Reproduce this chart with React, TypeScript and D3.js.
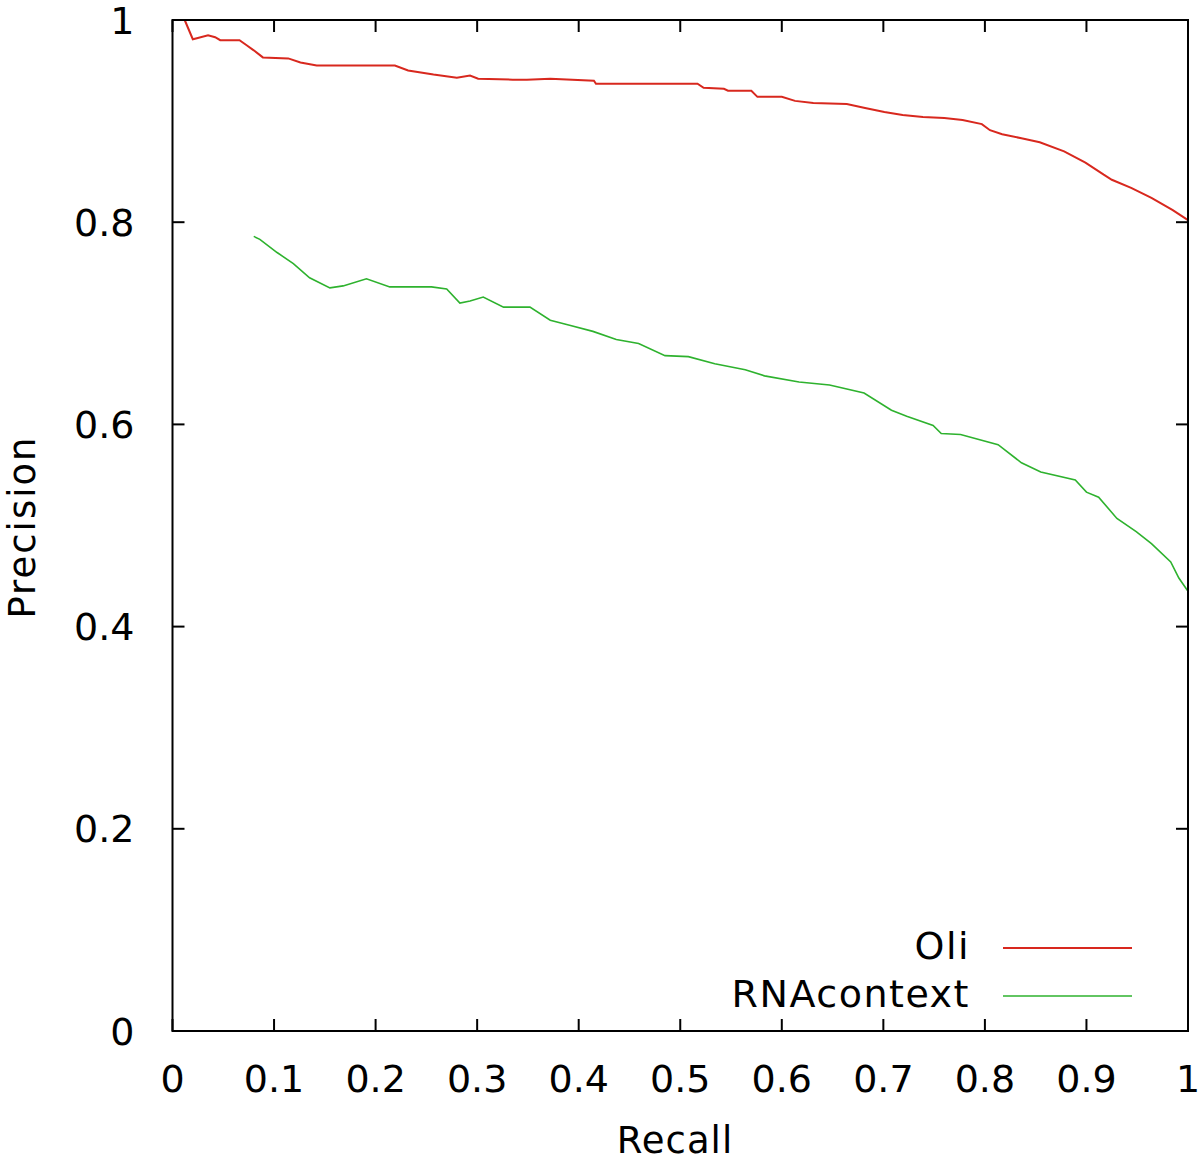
import React, {useEffect, useRef} from 'react';
import * as d3 from 'd3';

const width = 1200;
const height = 1164;
const FONT = '"DejaVu Sans", Verdana, sans-serif';
const RED = '#d8281e';
const GREEN = '#2eb22e';

// Oli curve (recall, precision)
const oliRecall = [0.012, 0.020, 0.024, 0.035, 0.042, 0.047, 0.066, 0.073, 0.080, 0.089, 0.114, 0.126, 0.142, 0.219, 0.232, 0.257, 0.280, 0.293, 0.301, 0.335, 0.349, 0.372, 0.415, 0.417, 0.517, 0.523, 0.543, 0.547, 0.570, 0.576, 0.600, 0.613, 0.631, 0.664, 0.682, 0.701, 0.719, 0.739, 0.760, 0.778, 0.797, 0.805, 0.817, 0.836, 0.854, 0.878, 0.899, 0.917, 0.925, 0.944, 0.964, 0.985, 1.0];
const oliPrecision = [1.0, 0.981, 0.982, 0.985, 0.983, 0.980, 0.980, 0.975, 0.970, 0.963, 0.962, 0.958, 0.955, 0.955, 0.950, 0.946, 0.943, 0.945, 0.942, 0.941, 0.941, 0.942, 0.940, 0.937, 0.937, 0.933, 0.932, 0.930, 0.930, 0.924, 0.924, 0.920, 0.918, 0.917, 0.913, 0.909, 0.906, 0.904, 0.903, 0.901, 0.897, 0.891, 0.887, 0.883, 0.879, 0.870, 0.859, 0.847, 0.842, 0.834, 0.824, 0.812, 0.802];

// RNAcontext curve
const rnaRecall = [0.080, 0.086, 0.103, 0.119, 0.135, 0.155, 0.168, 0.191, 0.214, 0.255, 0.270, 0.283, 0.293, 0.306, 0.326, 0.352, 0.372, 0.391, 0.414, 0.437, 0.459, 0.485, 0.508, 0.534, 0.564, 0.583, 0.617, 0.647, 0.681, 0.708, 0.723, 0.749, 0.757, 0.776, 0.813, 0.836, 0.855, 0.889, 0.900, 0.912, 0.930, 0.949, 0.964, 0.983, 0.991, 1.0];
const rnaPrecision = [0.786, 0.783, 0.770, 0.759, 0.745, 0.735, 0.737, 0.744, 0.736, 0.736, 0.734, 0.720, 0.722, 0.726, 0.716, 0.716, 0.703, 0.698, 0.692, 0.684, 0.680, 0.668, 0.667, 0.660, 0.654, 0.648, 0.642, 0.639, 0.631, 0.614, 0.608, 0.599, 0.591, 0.590, 0.580, 0.562, 0.553, 0.545, 0.533, 0.528, 0.507, 0.494, 0.482, 0.464, 0.448, 0.435];

const xTicks = [0, 0.1, 0.2, 0.3, 0.4, 0.5, 0.6, 0.7, 0.8, 0.9, 1];
const yTicks = [0, 0.2, 0.4, 0.6, 0.8, 1];
const seriesNames = ['Oli', 'RNAcontext'];

const App = () => {
    const canvas = useRef<HTMLDivElement>(null);

    useEffect(() => {
        document.body.style.margin = '0';
        d3.select(canvas.current).selectAll('*').remove();

        const svg = d3.select(canvas.current)
            .append('svg')
            .attr('width', width)
            .attr('height', height)
            .style('display', 'block')
            .style('background', '#fff');

        const left = 172.5, right = 1188, top = 20, bottom = 1031;
        const x = d3.scaleLinear().domain([0, 1]).range([left, right]);
        const y = d3.scaleLinear().domain([0, 1]).range([bottom, top]);
        const tickLen = 12;

        // ticks on all four sides, pointing in
        xTicks.forEach(t => {
            svg.append('line').attr('x1', x(t)).attr('x2', x(t)).attr('y1', bottom).attr('y2', bottom - tickLen)
                .attr('stroke', '#000').attr('stroke-width', 2);
            svg.append('line').attr('x1', x(t)).attr('x2', x(t)).attr('y1', top).attr('y2', top + tickLen)
                .attr('stroke', '#000').attr('stroke-width', 2);
            svg.append('text').attr('x', x(t)).attr('y', 1092)
                .attr('text-anchor', 'middle').attr('font-family', FONT).attr('font-size', 38)
                .text(d3.format('~g')(t));
        });
        yTicks.forEach(t => {
            svg.append('line').attr('x1', left).attr('x2', left + tickLen).attr('y1', y(t)).attr('y2', y(t))
                .attr('stroke', '#000').attr('stroke-width', 2);
            svg.append('line').attr('x1', right).attr('x2', right - tickLen).attr('y1', y(t)).attr('y2', y(t))
                .attr('stroke', '#000').attr('stroke-width', 2);
            svg.append('text').attr('x', left - 38).attr('y', y(t)).attr('dy', '0.36em')
                .attr('text-anchor', 'end').attr('font-family', FONT).attr('font-size', 38)
                .text(d3.format('~g')(t));
        });

        const line = d3.line<[number, number]>()
            .x(d => x(d[0]))
            .y(d => y(d[1]));

        const oli = oliRecall.map((r, i) => [r, oliPrecision[i]] as [number, number]);
        const rna = rnaRecall.map((r, i) => [r, rnaPrecision[i]] as [number, number]);

        svg.append('path').datum(oli).attr('d', line)
            .attr('fill', 'none').attr('stroke', RED).attr('stroke-width', 2);
        svg.append('path').datum(rna).attr('d', line)
            .attr('fill', 'none').attr('stroke', GREEN).attr('stroke-width', 1.6);

        // frame
        svg.append('rect').attr('x', left).attr('y', top)
            .attr('width', right - left).attr('height', bottom - top)
            .attr('fill', 'none').attr('stroke', '#000').attr('stroke-width', 2);

        // legend
        const legendColors = [RED, GREEN];
        const legendY = [948, 996];
        seriesNames.forEach((name, i) => {
            svg.append('text').attr('x', 970).attr('y', legendY[i] + 11)
                .attr('text-anchor', 'end').attr('font-family', FONT).attr('font-size', 38)
                .attr('letter-spacing', 1.5)
                .text(name);
            svg.append('line').attr('x1', 1003).attr('x2', 1132).attr('y1', legendY[i]).attr('y2', legendY[i])
                .attr('stroke', legendColors[i]).attr('stroke-width', i === 0 ? 2 : 1.6);
        });

        // axis titles
        svg.append('text').attr('x', 675).attr('y', 1153)
            .attr('text-anchor', 'middle').attr('font-family', FONT).attr('font-size', 37)
            .attr('letter-spacing', 1)
            .text('Recall');
        svg.append('text').attr('transform', 'translate(35,527) rotate(-90)')
            .attr('text-anchor', 'middle').attr('font-family', FONT).attr('font-size', 37)
            .attr('letter-spacing', 2)
            .text('Precision');
    }, []);

    return (
        <div>
            <div className="canvas" ref={canvas}></div>
        </div>
    );
};

export default App;
